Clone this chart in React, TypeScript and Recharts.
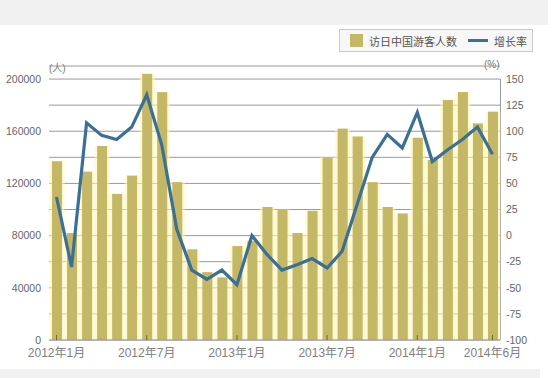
import React from "react";
import { ComposedChart, Bar, Line, XAxis, YAxis, CartesianGrid } from "recharts";

const months = [
  "2012年1月", "2012年2月", "2012年3月", "2012年4月", "2012年5月", "2012年6月",
  "2012年7月", "2012年8月", "2012年9月", "2012年10月", "2012年11月", "2012年12月",
  "2013年1月", "2013年2月", "2013年3月", "2013年4月", "2013年5月", "2013年6月",
  "2013年7月", "2013年8月", "2013年9月", "2013年10月", "2013年11月", "2013年12月",
  "2014年1月", "2014年2月", "2014年3月", "2014年4月", "2014年5月", "2014年6月",
];

// 访日中国游客人数 (人)
const visitors = [
  137000, 82000, 129000, 148700, 112000, 126000,
  204000, 190000, 121000, 69500, 52000, 48000,
  72000, 76000, 102000, 100000, 82000, 99000,
  140000, 162000, 156000, 121000, 102000, 97000,
  155000, 138000, 184000, 190000, 166000, 175000,
];

// 增长率 (%)
const growth = [
  37, -30, 108, 96, 92, 104,
  135, 87, 6, -33, -42, -33,
  -47, 0, -18, -33, -28, -22,
  -31, -15, 30, 75, 97, 84,
  118, 71, 82, 92, 104, 78,
];

const xTicks = ["2012年1月", "2012年7月", "2013年1月", "2013年7月", "2014年1月", "2014年6月"];
const leftTicks = [0, 40000, 80000, 120000, 160000, 200000];
const rightTicks = [-100, -75, -50, -25, 0, 25, 50, 75, 100, 125, 150];

const data = months.map((m, i) => ({ month: m, visitors: visitors[i], growth: growth[i] }));

const BAR = "#c4b765";
const LINE = "#3b6f94";
const FONT = "'Liberation Sans', 'Noto Sans CJK SC', sans-serif";

// bars have a pale yellow glow that fills the gaps
const BarShape = (props: any) => {
  const { x, y, width, height } = props;
  if (!height) return null;
  return (
    <g>
      <rect x={x - 2.5} y={y} width={width + 5} height={height} fill="#fff6b8" fillOpacity={0.6} />
      <rect x={x} y={y} width={width} height={height} fill={BAR} />
    </g>
  );
};

const App: React.FC = () => {
  return (
    <div
      style={{
        position: "absolute",
        left: 0,
        top: 0,
        width: 556,
        height: 378,
        background: "#fff",
        fontFamily: FONT,
        overflow: "hidden",
      }}
    >
      <div style={{ position: "absolute", left: 0, top: 0, width: 548, height: 25, background: "#f1f1f1" }} />
      <div style={{ position: "absolute", left: 0, top: 369, width: 540, height: 9, background: "#f1f1f1" }} />

      <div
        style={{
          position: "absolute",
          left: 339,
          top: 29,
          width: 192,
          height: 21,
          border: "1px solid #c9c9c9",
          background: "#f7f7f7",
          display: "flex",
          alignItems: "center",
          fontSize: 11,
          color: "#555",
          boxSizing: "content-box",
        }}
      >
        <span style={{ display: "inline-block", width: 13, height: 13, background: BAR, marginLeft: 10 }} />
        <span style={{ marginLeft: 6 }}>访日中国游客人数</span>
        <span style={{ display: "inline-block", width: 20, height: 3, background: LINE, marginLeft: 11 }} />
        <span style={{ marginLeft: 6 }}>增长率</span>
      </div>

      <div style={{ position: "absolute", left: 49, top: 60, fontSize: 10, color: "#777" }}>(人)</div>
      <div style={{ position: "absolute", left: 484, top: 59, fontSize: 10, color: "#777" }}>(%)</div>
      {/* right frame line, from the top gridline down */}
      <div style={{ position: "absolute", left: 500, top: 79, width: 1, height: 261, background: "#999" }} />

      <ComposedChart
        width={556}
        height={378}
        data={data}
        margin={{ top: 66, right: 16, bottom: 18, left: 4 }}
        style={{ position: "absolute", left: 0, top: 0 }}
      >
        <CartesianGrid vertical={false} yAxisId="right" stroke="#9a9a9a" />
        <Bar yAxisId="left" dataKey="visitors" barSize={10} fill={BAR} shape={BarShape} isAnimationActive={false} />
        <Line
          yAxisId="right"
          type="linear"
          dataKey="growth"
          stroke={LINE}
          strokeWidth={3.2}
          dot={false}
          isAnimationActive={false}
        />
        <XAxis
          dataKey="month"
          ticks={xTicks}
          interval={0}
          tickSize={-5}
          tickMargin={13}
          tickLine={{ stroke: "#6e6b32" }}
          axisLine={{ stroke: "#999" }}
          height={20}
          tick={{ fontSize: 12, fill: "#808080", fontFamily: FONT }}
        />
        <YAxis
          yAxisId="left"
          domain={[0, 210000]}
          ticks={leftTicks}
          width={45}
          axisLine={false}
          tickLine={false}
          tick={{ fontSize: 10.5, fill: "#666", fontFamily: FONT }}
        />
        <YAxis
          yAxisId="right"
          orientation="right"
          domain={[-100, 162.5]}
          ticks={rightTicks}
          width={40}
          axisLine={false}
          tickLine={false}
          tickMargin={0}
          tick={{ fontSize: 10.5, fill: "#666", fontFamily: FONT, textAnchor: "start" }}
        />
      </ComposedChart>
    </div>
  );
};

export default App;
